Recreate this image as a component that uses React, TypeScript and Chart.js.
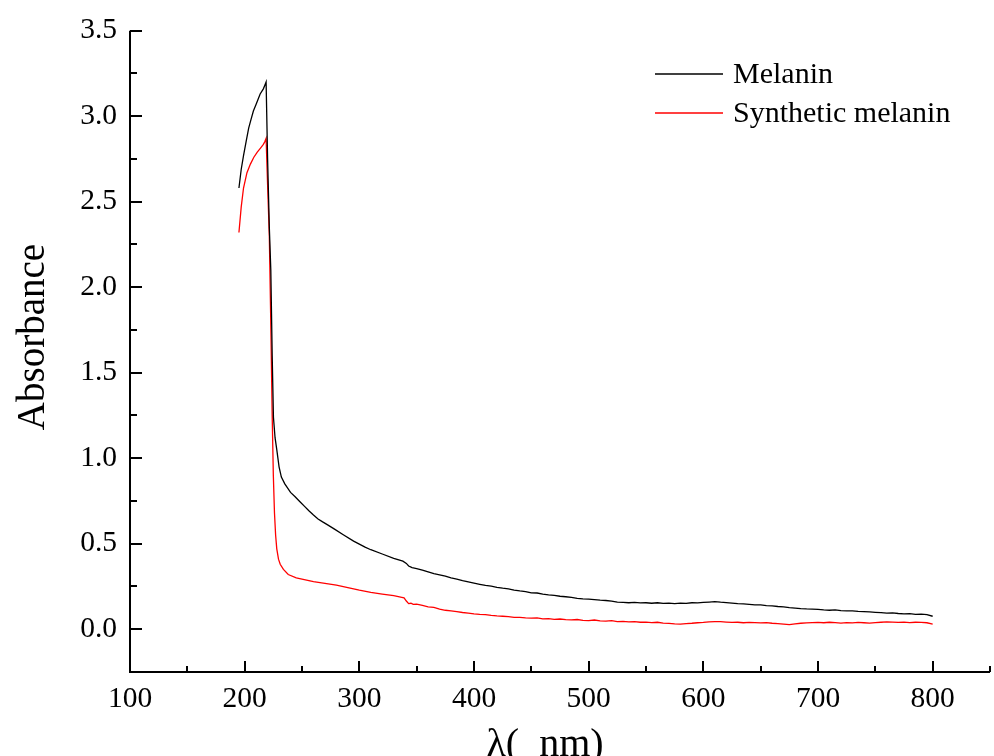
import React, { useEffect, useRef } from "react";
import { Chart, registerables } from "chart.js";

Chart.register(...registerables);

const melaninHeadWavelength = [
  195, 197, 199, 201.5, 203.5, 205.5, 207.6, 210, 213.5, 216.3, 217.5, 218.7,
  220, 221.5, 222.8, 224, 225.1, 226.5, 228, 230, 232, 235, 240, 244, 248, 252, 256,
  260, 264, 268, 272, 278, 286, 295, 305, 310, 320, 330, 338, 341, 343, 346, 350, 355,
  360, 365, 370, 375, 380, 385, 390, 395, 400,
];
const melaninHeadAbsorbance = [
  2.58, 2.69, 2.77, 2.86, 2.93, 2.98, 3.03, 3.07, 3.13, 3.16, 3.18, 3.2,
  2.75, 2.35, 2.1, 1.6, 1.24, 1.12, 1.05, 0.95, 0.89, 0.85, 0.8, 0.775, 0.747, 0.72, 0.693,
  0.668, 0.645, 0.628, 0.612, 0.587, 0.553, 0.515, 0.48, 0.465, 0.44, 0.415, 0.398, 0.385, 0.37, 0.36, 0.355, 0.345,
  0.335, 0.325, 0.318, 0.31, 0.3, 0.293, 0.284, 0.277, 0.27,
];

const synthHeadWavelength = [
  195, 197, 199, 202, 205, 208, 211, 214, 216.3, 217.5, 218.7,
  220, 221.5, 223, 224, 225, 226, 227, 228, 229.5, 231, 233.8, 238, 245, 252,
  260, 270, 280, 290, 300, 310, 320, 330, 337, 339, 341, 343, 345, 347, 350,
  355, 360, 365, 370, 375, 380, 385, 390, 395, 400,
];
const synthHeadAbsorbance = [
  2.32, 2.47, 2.58, 2.67, 2.72, 2.76, 2.79, 2.815, 2.835, 2.85, 2.87,
  2.6, 2.3, 1.7, 1.25, 0.9, 0.68, 0.55, 0.47, 0.41, 0.38, 0.35, 0.32, 0.3, 0.29,
  0.278, 0.268, 0.258, 0.244, 0.229, 0.216, 0.206, 0.196, 0.186, 0.183, 0.165, 0.15, 0.152, 0.145, 0.147,
  0.139, 0.131, 0.128, 0.118, 0.111, 0.108, 0.103, 0.098, 0.094, 0.09,
];

const tailWavelength = [
  405, 410, 415, 420, 425, 430, 435, 440, 445, 450,
  455, 460, 465, 470, 475, 480, 485, 490, 495, 500,
  505, 510, 515, 520, 525, 530, 535, 540, 545, 550,
  555, 560, 565, 570, 575, 580, 585, 590, 595, 600,
  605, 610, 615, 620, 625, 630, 635, 640, 645, 650,
  655, 660, 665, 670, 675, 680, 685, 690, 695, 700,
  705, 710, 715, 720, 725, 730, 735, 740, 745, 750,
  755, 760, 765, 770, 775, 780, 785, 790, 795, 800,
];
const melaninTailAbsorbance = [
  0.263, 0.256, 0.252, 0.245, 0.24, 0.236, 0.229, 0.224, 0.22, 0.213,
  0.212, 0.205, 0.201, 0.198, 0.193, 0.19, 0.186, 0.181, 0.178, 0.176,
  0.173, 0.17, 0.168, 0.165, 0.158, 0.157, 0.155, 0.157, 0.154, 0.155,
  0.152, 0.155, 0.151, 0.153, 0.15, 0.153, 0.151, 0.155, 0.154, 0.157,
  0.159, 0.161, 0.158, 0.156, 0.153, 0.15, 0.148, 0.146, 0.143, 0.142,
  0.138, 0.137, 0.133, 0.131, 0.127, 0.124, 0.121, 0.119, 0.118, 0.116,
  0.113, 0.111, 0.113, 0.109, 0.107, 0.108, 0.105, 0.103, 0.101, 0.099,
  0.097, 0.094, 0.096, 0.092, 0.09, 0.091, 0.087, 0.088, 0.085, 0.076,
];
const synthTailAbsorbance = [
  0.087, 0.085, 0.081, 0.078, 0.076, 0.074, 0.07, 0.069, 0.066, 0.065,
  0.067, 0.061, 0.062, 0.058, 0.06, 0.056, 0.055, 0.057, 0.052, 0.051,
  0.054, 0.049, 0.047, 0.05, 0.045, 0.046, 0.043, 0.045, 0.041, 0.042,
  0.039, 0.041, 0.036, 0.034, 0.031, 0.03, 0.033, 0.035, 0.038, 0.04,
  0.043, 0.045, 0.044, 0.042, 0.04, 0.041, 0.038, 0.04, 0.039, 0.037,
  0.039, 0.035, 0.033, 0.03, 0.027, 0.031, 0.035, 0.037, 0.039, 0.04,
  0.038, 0.041, 0.039, 0.036, 0.039, 0.037, 0.04, 0.038, 0.036, 0.039,
  0.041, 0.043, 0.042, 0.04, 0.042, 0.039, 0.041, 0.04, 0.038, 0.03,
];

const seriesNames = ["Melanin", "Synthetic melanin"];
const seriesColors = ["#000000", "#ff0000"];
const xMajorTicks = [100, 200, 300, 400, 500, 600, 700, 800];
const xMinorTicks = [150, 250, 350, 450, 550, 650, 750, 850];
const yMajorTicks = [0, 0.5, 1.0, 1.5, 2.0, 2.5, 3.0, 3.5];
const yMinorTicks = [0.25, 0.75, 1.25, 1.75, 2.25, 2.75, 3.25];
const xTitle = "λ(  nm)";
const yTitle = "Absorbance";

const SERIF = '"Liberation Serif", "Times New Roman", serif';

function pairs(xs: number[], ys: number[]) {
  return xs.map((x, i) => ({ x, y: ys[i] }));
}

const decorPlugin = {
  id: "decor",
  afterDraw(chart: any) {
    const { ctx, chartArea, scales } = chart;
    const xs = scales.x;
    const ys = scales.y;
    const L = chartArea.left;
    const B = chartArea.bottom;
    const T = chartArea.top;
    const R = chartArea.right;
    ctx.save();
    ctx.strokeStyle = "#000";
    ctx.lineWidth = 2;
    ctx.lineCap = "butt";
    ctx.beginPath();
    ctx.moveTo(L, T);
    ctx.lineTo(L, B + 1);
    ctx.moveTo(L - 1, B);
    ctx.lineTo(R, B);
    xMajorTicks.forEach((v) => {
      const p = Math.round(xs.getPixelForValue(v));
      ctx.moveTo(p, B);
      ctx.lineTo(p, B - 11);
    });
    xMinorTicks.forEach((v) => {
      const p = Math.round(xs.getPixelForValue(v));
      ctx.moveTo(p, B);
      ctx.lineTo(p, B - 6);
    });
    yMajorTicks.forEach((v) => {
      const p = Math.round(ys.getPixelForValue(v));
      ctx.moveTo(L, p);
      ctx.lineTo(L + 12, p);
    });
    yMinorTicks.forEach((v) => {
      const p = Math.round(ys.getPixelForValue(v));
      ctx.moveTo(L, p);
      ctx.lineTo(L + 7, p);
    });
    ctx.stroke();

    const legendY = [74, 113];
    ctx.font = `30px ${SERIF}`;
    ctx.textBaseline = "middle";
    ctx.textAlign = "left";
    seriesNames.forEach((name, i) => {
      ctx.strokeStyle = seriesColors[i];
      ctx.lineWidth = 1.3;
      ctx.beginPath();
      ctx.moveTo(655, legendY[i]);
      ctx.lineTo(723, legendY[i]);
      ctx.stroke();
      ctx.fillStyle = "#000";
      ctx.fillText(name, 733, legendY[i] + 1);
    });

    ctx.save();
    ctx.translate(44, 337);
    ctx.rotate(-Math.PI / 2);
    ctx.font = `39px ${SERIF}`;
    ctx.textAlign = "center";
    ctx.textBaseline = "alphabetic";
    ctx.fillStyle = "#000";
    ctx.fillText(yTitle, 0, 0);
    ctx.restore();

    ctx.font = `40px ${SERIF}`;
    ctx.textAlign = "center";
    ctx.textBaseline = "alphabetic";
    ctx.fillStyle = "#000";
    ctx.fillText(xTitle, 545, 756);
    ctx.restore();
  },
};

export default function App() {
  const ref = useRef<HTMLCanvasElement | null>(null);
  useEffect(() => {
    if (!ref.current) return;
    const chart = new Chart(ref.current, {
      type: "line",
      data: {
        datasets: [
          {
            label: seriesNames[0],
            data: pairs(
              [...melaninHeadWavelength, ...tailWavelength],
              [...melaninHeadAbsorbance, ...melaninTailAbsorbance]
            ),
            borderColor: seriesColors[0],
            borderWidth: 1.3,
            pointRadius: 0,
            tension: 0,
            fill: false,
          },
          {
            label: seriesNames[1],
            data: pairs(
              [...synthHeadWavelength, ...tailWavelength],
              [...synthHeadAbsorbance, ...synthTailAbsorbance]
            ),
            borderColor: seriesColors[1],
            borderWidth: 1.3,
            pointRadius: 0,
            tension: 0,
            fill: false,
          },
        ],
      },
      options: {
        animation: false,
        responsive: false,
        devicePixelRatio: 1,
        layout: { padding: { top: 29, right: 4, left: 0, bottom: 0 } },
        plugins: { legend: { display: false }, tooltip: { enabled: false } },
        scales: {
          x: {
            type: "linear",
            min: 100,
            max: 850,
            grid: { display: false, drawTicks: false },
            border: { display: false },
            afterBuildTicks: (s: any) => {
              s.ticks = xMajorTicks.map((v) => ({ value: v }));
            },
            afterFit: (s: any) => {
              s.height = 84;
            },
            ticks: {
              color: "#000",
              padding: 10,
              maxRotation: 0,
              autoSkip: false,
              font: { family: SERIF, size: 29.5 },
              callback: (v: any) => String(v),
            },
          },
          y: {
            type: "linear",
            min: -0.25,
            max: 3.5,
            grid: { display: false, drawTicks: false },
            border: { display: false },
            afterBuildTicks: (s: any) => {
              s.ticks = yMajorTicks.map((v) => ({ value: v }));
            },
            afterFit: (s: any) => {
              s.width = 130;
            },
            ticks: {
              color: "#000",
              padding: 13,
              autoSkip: false,
              font: { family: SERIF, size: 29.5 },
              callback: (v: any) => Number(v).toFixed(1),
            },
          },
        },
      },
      plugins: [decorPlugin],
    } as any);
    return () => chart.destroy();
  }, []);
  return (
    <div style={{ position: "fixed", left: 0, top: 0, width: 994, height: 756, background: "#fff" }}>
      <canvas ref={ref} width={994} height={756} style={{ display: "block", width: 994, height: 756 }} />
    </div>
  );
}
